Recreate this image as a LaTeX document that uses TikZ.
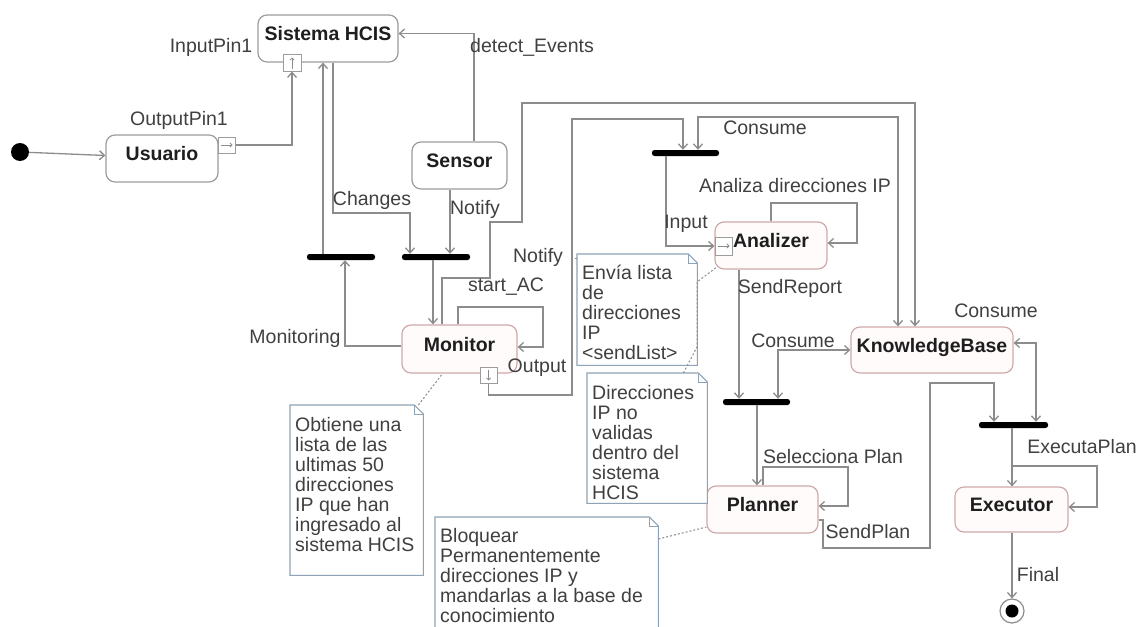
\documentclass[tikz,border=0pt]{standalone}
\usepackage{fontspec}
\setmainfont{Liberation Sans}
\usetikzlibrary{arrows.meta}
\definecolor{linegray}{HTML}{8C8C8C}
\definecolor{boxgray}{HTML}{9C9C9C}
\definecolor{actborder}{HTML}{CFA9A9}
\definecolor{actfill}{HTML}{FFFBFB}
\definecolor{noteborder}{HTML}{8FA3B6}
\definecolor{ink}{HTML}{1E1E1E}

\begin{document}
\begin{tikzpicture}[x=1pt,y=-1pt,
  lbl/.style={font=\fontsize{19.5}{20}\selectfont, text=ink!85, inner sep=0},
  plainbox/.style={draw=boxgray, line width=1.2pt, rounded corners=9pt, fill=white,
    font=\bfseries\fontsize{19.5}{20}\selectfont, text=ink, inner sep=0,
    text height=14pt, text depth=10pt},
  actbox/.style={plainbox, draw=actborder, fill=actfill},
  pin/.style={draw=boxgray, fill=white, line width=1pt, inner sep=0},
  pinmark/.style={draw=linegray, line width=0.8pt, -{Straight Barb[length=2pt,width=4pt]}},
  bar/.style={fill=black, rounded corners=2.5pt, minimum height=6pt, inner sep=0},
  flow/.style={draw=linegray, line width=1.3pt, -{Straight Barb[length=5pt,width=9pt]}},
  twoway/.style={draw=linegray, line width=1.3pt,
    {Straight Barb[length=5pt,width=9pt]}-{Straight Barb[length=5pt,width=9pt]}},
  notebox/.style={inner sep=0, anchor=north west},
  notetext/.style={lbl, anchor=north west, align=left},
  notelink/.style={draw=linegray, line width=1pt, dash pattern=on 2pt off 2pt}
]
\useasboundingbox (0,0) rectangle (1139,626);

% ---------- action nodes ----------
\node[circle, fill=black, minimum size=18pt, inner sep=0] (init) at (20,152) {};
\node[plainbox, minimum width=112pt, minimum height=47pt] (usuario) at (162,158.5) {Usuario};
\node[plainbox, minimum width=140pt, minimum height=47pt] (hcis) at (328,38.5) {Sistema HCIS};
\node[plainbox, minimum width=95pt, minimum height=47pt] (sensor) at (459.5,165.5) {Sensor};
\node[actbox, minimum width=115pt, minimum height=48pt] (monitor) at (459.5,349) {Monitor};
\node[actbox, minimum width=112pt, minimum height=47pt] (analizer) at (771,245.5) {Analizer};
\node[actbox, minimum width=162pt, minimum height=46pt] (kb) at (932,350) {KnowledgeBase};
\node[actbox, minimum width=111pt, minimum height=47pt] (planner) at (762.5,509.5) {Planner};
\node[actbox, minimum width=113pt, minimum height=45pt] (executor) at (1011.5,509.5) {Executor};
\node[circle, draw=linegray, line width=1.2pt, fill=white, minimum size=24pt, inner sep=0] (final) at (1012,611) {};
\node[circle, fill=black, minimum size=13pt, inner sep=0] (finaldot) at (final) {};

% ---------- pins ----------
\node[pin, minimum width=17pt, minimum height=16pt] (outpin1) at (226.5,145) {};
\node[pin, minimum width=18pt, minimum height=16pt] (inpin1) at (292,63) {};
\node[pin, minimum width=17pt, minimum height=16pt] (outpin2) at (488.5,375) {};
\node[pin, minimum width=17pt, minimum height=18pt] (inpin3) at (723.5,246) {};
\draw[pinmark] ([xshift=3pt]outpin1.west) -- ([xshift=-3pt]outpin1.east);
\draw[pinmark] ([yshift=3pt]inpin1.south) -- ([yshift=-3pt]inpin1.north);
\draw[pinmark] ([yshift=-3pt]outpin2.north) -- ([yshift=3pt]outpin2.south);
\draw[pinmark] ([xshift=3pt]inpin3.west) -- ([xshift=-3pt]inpin3.east);

% ---------- fork / join bars ----------
\node[bar, minimum width=68pt] (bar1) at (341,257) {};
\node[bar, minimum width=68pt] (bar2) at (436,257) {};
\node[bar, minimum width=67pt] (bar3) at (685.5,153) {};
\node[bar, minimum width=67pt] (bar4) at (756.5,402) {};
\node[bar, minimum width=69pt] (bar5) at (1013.5,425) {};

% ---------- control flows ----------
\draw[flow] (init) -- ([yshift=3pt]usuario.west);
\draw[flow] (outpin1.east) -| (inpin1.south);
\draw[flow] ([xshift=-18pt]bar1.north) -- ([xshift=-5pt]hcis.south);
\draw[flow] ([xshift=5pt]hcis.south) |- (410,213) -- ([xshift=-26pt]bar2.north);
\draw[flow] ([xshift=14.5pt]sensor.north) |- ([yshift=5pt]hcis.east);
\draw[flow] ([xshift=-9.5pt]sensor.south) -- ([xshift=14pt]bar2.north);
\draw[flow] ([xshift=-3pt]bar2.south) -- ([xshift=-26.5pt]monitor.north);
\draw[flow] ([yshift=3pt]monitor.west) -| ([xshift=4pt]bar1.south);
\draw[flow] ([xshift=-1.5pt]monitor.north) |- (543,307) |- ([yshift=2pt]monitor.east);
\draw[flow] ([xshift=-17.5pt]monitor.north) -- (442,278) -- (490,278) -- (490,222)
  -- (522,222) -- (522,103) -- (915,103) -- ([xshift=-17pt]kb.north);
\coordinate (notifypt) at (572,258);
\draw[flow] (outpin2.south) |- (572,395) -- (notifypt) |- (683,119) -- ([xshift=-2.5pt]bar3.north);
\draw[twoway] ([xshift=12.5pt]bar3.north) |- (898,117) -- ([xshift=-34pt]kb.north);
\draw[flow] ([xshift=-19.5pt]bar3.south) |- (inpin3.west);
\draw[flow] (analizer.north) |- (857,203) |- ([yshift=2.5pt]analizer.east);
\draw[flow] ([xshift=-32pt]analizer.south) -- ([xshift=-17.5pt]bar4.north);
\draw[twoway] ([xshift=21.5pt]bar4.north) |- (kb.west);
\draw[flow] ([xshift=0.5pt]bar4.south) -- ([xshift=-5.5pt]planner.north);
\draw[flow] ([xshift=0.5pt]planner.north) |- (848,467) |- ([yshift=3.5pt]planner.east);
\draw[flow] ([yshift=-10.5pt]planner.east) -- (823,520) |- (930,548) |- (994,383)
  -- ([xshift=-19.5pt]bar5.north);
\draw[twoway] ([yshift=7pt]kb.east) -| ([xshift=22.5pt]bar5.north);
\draw[flow] ([xshift=-1.5pt]bar5.south) -- ([xshift=0.5pt]executor.north);
\draw[flow] ([xshift=0.5pt]executor.north) |- (1097,466) |- ([yshift=2.5pt]executor.east);
\draw[flow] ([xshift=0.5pt]executor.south) -- (final.north);

% ---------- flow labels ----------
\node[lbl] (linpin) at (211,47) {InputPin1};
\node[lbl] (loutpin) at (179,120) {OutputPin1};
\node[lbl] (ldetect) at (532,47) {detect\_Events};
\node[lbl] (lchanges) at (372,200) {Changes};
\node[lbl] (lnotifya) at (475,209) {Notify};
\node[lbl] (lnotifyb) at (538,257) {Notify};
\node[lbl] (lstart) at (506,287) {start\_AC};
\node[lbl] (lmonitoring) at (295,338) {Monitoring};
\node[lbl] (loutput) at (537,368) {Output};
\node[lbl] (lconsumea) at (765,128) {Consume};
\node[lbl] (linput) at (686,224) {Input};
\node[lbl] (lanaliza) at (795,186) {Analiza direcciones IP};
\node[lbl] (lsendreport) at (790,288) {SendReport};
\node[lbl] (lconsumeb) at (793,341) {Consume};
\node[lbl] (lconsumec) at (996,311) {Consume};
\node[lbl] (lselecciona) at (833,457) {Selecciona Plan};
\node[lbl] (lsendplan) at (868,532) {SendPlan};
\node[lbl] (lexecuta) at (1082,447) {ExecutaPlan};
\node[lbl] (lfinal) at (1038,575) {Final};

% ---------- notes ----------
\node[notebox, minimum width=120pt, minimum height=111pt] (note1) at (577,254) {};
\node[notebox, minimum width=120pt, minimum height=130pt] (note2) at (587,373) {};
\node[notebox, minimum width=133pt, minimum height=170pt] (note3) at (290,405) {};
\node[notebox, minimum width=223pt, minimum height=123pt] (note4) at (435,517) {};
\foreach \n in {note1,note2,note3,note4}{
  \draw[draw=noteborder, line width=1.1pt, fill=white]
    (\n.north west) -- ([xshift=-9pt]\n.north east) -- ([yshift=-9pt]\n.north east)
    -- (\n.south east) -- (\n.south west) -- cycle;
  \draw[noteborder, line width=1pt]
    ([xshift=-9pt]\n.north east) -- ([xshift=-9pt,yshift=-9pt]\n.north east)
    -- ([yshift=-9pt]\n.north east);
}
\node[notetext] (note1t) at ([xshift=5pt,yshift=-11pt]note1.north west)
  {Envía lista\\de\\direcciones\\IP\\<sendList>};
\node[notetext] (note2t) at ([xshift=5pt,yshift=-12pt]note2.north west)
  {Direcciones\\IP no\\validas\\dentro del\\sistema\\HCIS};
\node[notetext] (note3t) at ([xshift=5pt,yshift=-12pt]note3.north west)
  {Obtiene una\\lista de las\\ultimas 50\\direcciones\\IP que han\\ingresado al\\sistema HCIS};
\node[notetext] (note4t) at ([xshift=5pt,yshift=-11pt]note4.north west)
  {Bloquear\\Permanentemente\\direcciones IP y\\mandarlas a la base de\\conocimiento};

% ---------- note attachments ----------
\draw[notelink] ([yshift=-4pt]note1.north west) -- (notifypt);
\draw[notelink] ([xshift=-24pt]note2.north east) -- (697,347) -- (697,282)
  -- ([xshift=3pt,yshift=3pt]analizer.south west);
\draw[notelink] ([xshift=-5pt]note3.north east) -- ([xshift=-17pt]monitor.south);
\draw[notelink] ([yshift=-22pt]note4.north east) -- ([yshift=-17.5pt]planner.west);
\end{tikzpicture}
\end{document}
